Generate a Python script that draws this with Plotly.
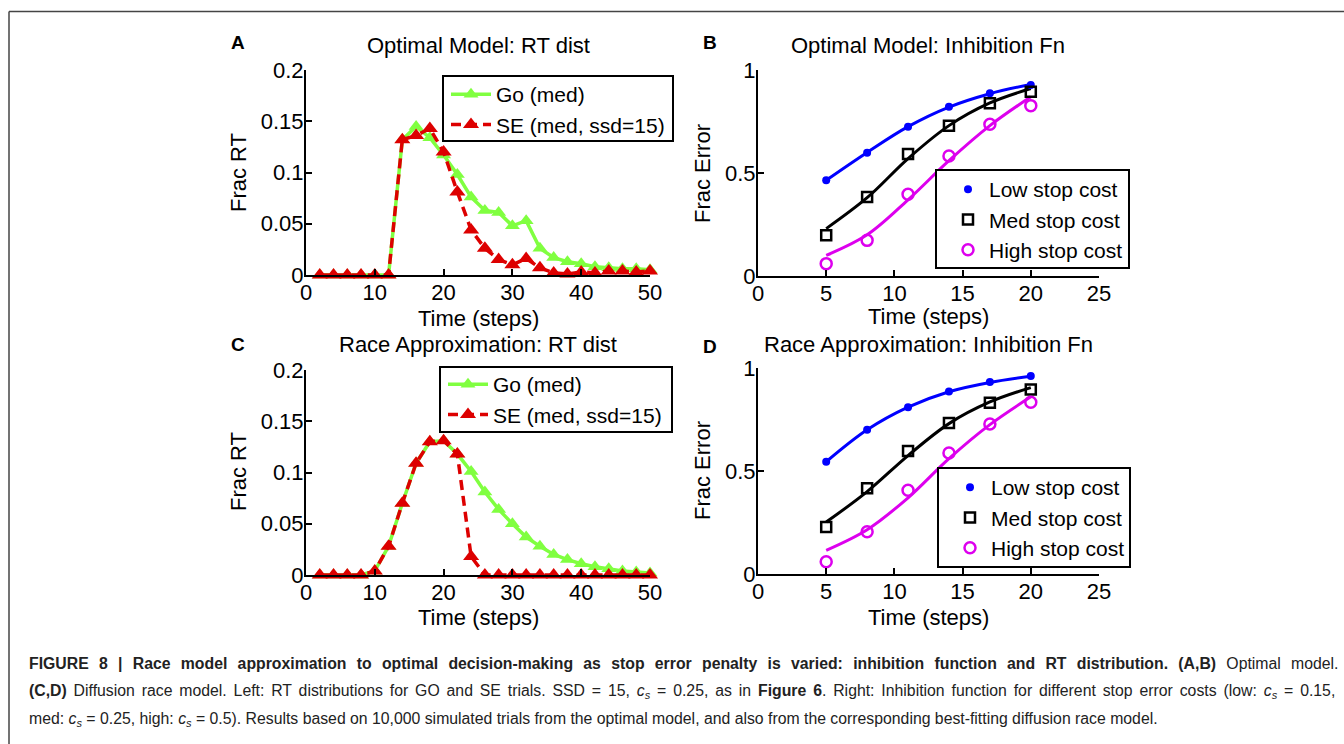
import plotly.graph_objects as go

# ---------------- data ----------------
t_steps = [2, 4, 6, 8, 10, 12, 14, 16, 18, 20, 22, 24, 26, 28, 30, 32, 34, 36, 38, 40, 42, 44, 46, 48, 50]

opt_go = [0, 0, 0, 0, 0, 0, 0.132, 0.145, 0.134, 0.117, 0.098, 0.076, 0.063, 0.061, 0.048,
          0.053, 0.026, 0.017, 0.013, 0.011, 0.008, 0.007, 0.006, 0.006, 0.005]
opt_se = [0, 0, 0, 0, 0, 0, 0.132, 0.136, 0.143, 0.120, 0.081, 0.044, 0.026, 0.015, 0.010,
          0.016, 0.007, 0.002, 0.001, 0.003, 0.002, 0.004, 0.004, 0.003, 0.004]

race_go = [0, 0, 0, 0, 0.004, 0.028, 0.070, 0.109, 0.130, 0.131, 0.118, 0.101, 0.081, 0.064,
           0.050, 0.037, 0.028, 0.020, 0.015, 0.011, 0.008, 0.006, 0.004, 0.003, 0.002]
race_se = [0, 0, 0, 0, 0.004, 0.028, 0.070, 0.109, 0.130, 0.131, 0.118, 0.018, 0, 0,
           0, 0, 0, 0, 0, 0, 0, 0, 0, 0, 0]

ssd = [5, 8, 11, 14, 17, 20]

# optimal model inhibition function: data points
opt_low = [0.465, 0.598, 0.725, 0.822, 0.887, 0.927]
opt_med = [0.198, 0.384, 0.592, 0.729, 0.838, 0.895]
opt_high = [0.060, 0.173, 0.397, 0.583, 0.737, 0.827]
# fitted curves
opt_low_fit = [0.465, 0.600, 0.725, 0.820, 0.885, 0.930]
opt_med_fit = [0.230, 0.380, 0.570, 0.730, 0.840, 0.910]
opt_high_fit = [0.100, 0.200, 0.370, 0.560, 0.730, 0.870]

# race approximation inhibition function: data points
race_low = [0.545, 0.700, 0.810, 0.886, 0.932, 0.961]
race_med = [0.228, 0.416, 0.597, 0.733, 0.831, 0.896]
race_high = [0.059, 0.205, 0.407, 0.587, 0.728, 0.834]
race_low_fit = [0.545, 0.700, 0.810, 0.885, 0.930, 0.960]
race_med_fit = [0.252, 0.400, 0.575, 0.730, 0.835, 0.905]
race_high_fit = [0.115, 0.215, 0.370, 0.560, 0.725, 0.860]

# ---------------- styling ----------------
W, H = 1344, 744
FONT = "Liberation Sans, Arial, Helvetica, sans-serif"
GREEN = "#80FF40"
RED = "#DD0000"
BLUE = "#0000FF"
MAGENTA = "#DD00EE"


def px(x):
    return x / W


def py(y):
    return 1 - y / H


fig = go.Figure()

# panel geometry (pixels)
panels = {
    "A": dict(x0=306, x1=650, ytop=70, ybot=275),
    "C": dict(x0=306, x1=650, ytop=370, ybot=575),
    "B": dict(x0=758, x1=1099, ytop=70, ybot=276),
    "D": dict(x0=758, x1=1099, ytop=368, ybot=574),
}
axmap = {"A": ("x", "y"), "B": ("x2", "y2"), "C": ("x3", "y3"), "D": ("x4", "y4")}
legmap = {"A": "legend", "B": "legend2", "C": "legend3", "D": "legend4"}

# RT distribution panels
for key, gov, sev in (("A", opt_go, opt_se), ("C", race_go, race_se)):
    xa, ya = axmap[key]
    fig.add_trace(go.Scatter(
        x=t_steps, y=gov, mode="lines+markers", name="Go (med)",
        line=dict(color=GREEN, width=3.5),
        marker=dict(symbol="triangle-up", size=13, color=GREEN),
        xaxis=xa, yaxis=ya, legend=legmap[key], legendgroup=key + "go",
        cliponaxis=False))
    fig.add_trace(go.Scatter(
        x=t_steps, y=sev, mode="lines+markers", name="SE (med, ssd=15)",
        line=dict(color=RED, width=3.5, dash="10px,6px"),
        marker=dict(symbol="triangle-up", size=14, color=RED),
        xaxis=xa, yaxis=ya, legend=legmap[key], legendgroup=key + "se",
        cliponaxis=False))

# Inhibition function panels
for key, pts, fits in (
    ("B", (opt_low, opt_med, opt_high), (opt_low_fit, opt_med_fit, opt_high_fit)),
    ("D", (race_low, race_med, race_high), (race_low_fit, race_med_fit, race_high_fit)),
):
    xa, ya = axmap[key]
    for fit, col in zip(fits, (BLUE, "black", MAGENTA)):
        fig.add_trace(go.Scatter(
            x=ssd, y=fit, mode="lines", line=dict(color=col, width=3, shape="spline"),
            xaxis=xa, yaxis=ya, showlegend=False, hoverinfo="skip", cliponaxis=False))
    names = ("Low stop cost", "Med stop cost", "High stop cost")
    markers = (
        dict(symbol="circle", size=8, color=BLUE),
        dict(symbol="square-open", size=10, color="black", line=dict(width=2.5, color="black")),
        dict(symbol="circle-open", size=11, color=MAGENTA, line=dict(width=2.5, color=MAGENTA)),
    )
    for p, nm, mk in zip(pts, names, markers):
        fig.add_trace(go.Scatter(
            x=ssd, y=p, mode="markers", name=nm, marker=mk,
            xaxis=xa, yaxis=ya, legend=legmap[key], legendgroup=key + nm,
            cliponaxis=False))

axis_common = dict(
    showline=True, linecolor="black", linewidth=2, ticks="inside", ticklen=6,
    tickwidth=1.5, tickcolor="black", showgrid=False, zeroline=False,
    tickfont=dict(family=FONT, size=22, color="black"), mirror=False, automargin=False,
)

layout_axes = {}
for key, g in panels.items():
    xa, ya = axmap[key]
    xname = "xaxis" if xa == "x" else "xaxis" + xa[1:]
    yname = "yaxis" if ya == "y" else "yaxis" + ya[1:]
    if key in ("A", "C"):
        xr, xt = [0, 50], [0, 10, 20, 30, 40, 50]
        yr, yt = [0, 0.2], [0, 0.05, 0.1, 0.15, 0.2]
        ytxt = ["0", "0.05", "0.1", "0.15", "0.2"]
    else:
        xr, xt = [0, 25], [0, 5, 10, 15, 20, 25]
        yr, yt = [0, 1], [0, 0.5, 1]
        ytxt = ["0", "0.5", "1"]
    layout_axes[xname] = dict(axis_common, domain=[px(g["x0"]), px(g["x1"])], range=xr,
                              tickvals=xt, anchor=ya, ticklabelstandoff=-3)
    layout_axes[yname] = dict(axis_common, domain=[py(g["ybot"]), py(g["ytop"])], range=yr,
                              tickvals=yt, ticktext=ytxt, anchor=xa, ticklabelstandoff=-4)

fig.update_layout(**layout_axes)

# legends (box drawn as shape)
leg_boxes = {"A": (443, 76, 673, 141), "C": (440, 367, 672, 432),
             "B": (936, 170, 1129, 268), "D": (938, 468, 1130, 567)}
shapes = []
for key, (x0, y0, x1, y1) in leg_boxes.items():
    shapes.append(dict(type="rect", xref="paper", yref="paper", x0=px(x0), x1=px(x1),
                       y0=py(y1), y1=py(y0), line=dict(color="black", width=2),
                       fillcolor="white", layer="above"))
# page frame
shapes.append(dict(type="line", xref="paper", yref="paper", x0=px(9), x1=1.02,
                   y0=py(11.5), y1=py(11.5), line=dict(color="#444444", width=1.5)))
shapes.append(dict(type="line", xref="paper", yref="paper", x0=px(9), x1=px(9),
                   y0=py(11.5), y1=-0.02, line=dict(color="#444444", width=1.5)))

leg_common = dict(bgcolor="rgba(0,0,0,0)", borderwidth=0, xanchor="left", yanchor="top",
                  font=dict(family=FONT, size=21, color="black"), tracegroupgap=0)
fig.update_layout(
    legend=dict(leg_common, x=px(446), y=py(74), itemwidth=40),
    legend3=dict(leg_common, x=px(443), y=py(364), itemwidth=40),
    legend2=dict(leg_common, x=px(947), y=py(169), itemwidth=32),
    legend4=dict(leg_common, x=px(949), y=py(467), itemwidth=32),
)

ann = []
# titles
titles = {"A": ("Optimal Model: RT dist", 478, 45), "B": ("Optimal Model: Inhibition Fn", 928, 46),
          "C": ("Race Approximation: RT dist", 478, 344), "D": ("Race Approximation: Inhibition Fn", 928, 345)}
for key, (txt, x, y) in titles.items():
    ann.append(dict(text=txt, x=px(x), y=py(y), xref="paper", yref="paper", showarrow=False,
                    xanchor="center", yanchor="middle", font=dict(family=FONT, size=22, color="black")))
# panel letters
letters = {"A": (238, 43), "B": (710, 43), "C": (238, 345), "D": (710, 346)}
for key, (x, y) in letters.items():
    ann.append(dict(text="<b>%s</b>" % key, x=px(x), y=py(y), xref="paper", yref="paper",
                    showarrow=False, xanchor="center", yanchor="middle",
                    font=dict(family=FONT, size=19, color="black")))
# axis titles
xt_pos = [(478, 318), (928, 317), (478, 617), (928, 617)]
for x, y in xt_pos:
    ann.append(dict(text="Time (steps)", x=px(x), y=py(y), xref="paper", yref="paper",
                    showarrow=False, xanchor="center", yanchor="middle",
                    font=dict(family=FONT, size=22, color="black")))
yt_pos = [("Frac RT", 238, 173), ("Frac RT", 238, 472), ("Frac Error", 702, 174), ("Frac Error", 702, 471)]
for txt, x, y in yt_pos:
    ann.append(dict(text=txt, x=px(x), y=py(y), xref="paper", yref="paper", textangle=-90,
                    showarrow=False, xanchor="center", yanchor="middle",
                    font=dict(family=FONT, size=22, color="black")))

# caption (justified lines emulated with word spacing)
cs = "<i>c</i><sub><i>s</i></sub>"
cap_lines = [
    ("<b>FIGURE 8 | Race model approximation to optimal decision-making as stop error penalty is varied: "
     "inhibition function and RT distribution. (A,B)</b> Optimal model.", 663, 5.9),
    ("<b>(C,D)</b> Diffusion race model. Left: RT distributions for GO and SE trials. SSD = 15, "
     + cs + " = 0.25, as in <b>Figure 6</b>. Right: Inhibition function for different stop error costs (low: "
     + cs + " = 0.15,", 691, 2.5),
    ("med: " + cs + " = 0.25, high: " + cs + " = 0.5). Results based on 10,000 simulated trials from the "
     "optimal model, and also from the corresponding best-fitting diffusion race model.", 719, 0),
]
for txt, y, ws in cap_lines:
    ann.append(dict(text='<span style="word-spacing:%gpx">%s</span>' % (ws, txt),
                    x=px(27), y=py(y), xref="paper", yref="paper", showarrow=False,
                    xanchor="left", yanchor="middle", align="left",
                    font=dict(family=FONT, size=15.8, color="#222222")))

fig.update_layout(
    annotations=ann, shapes=shapes,
    width=W, height=H, autosize=False,
    margin=dict(l=0, r=0, t=0, b=0, pad=0, autoexpand=False),
    paper_bgcolor="white", plot_bgcolor="white",
    font=dict(family=FONT, color="black"),
    showlegend=True,
)

fig.write_html("out.html", config={"displayModeBar": False},
               post_script="document.body.style.margin='0';document.body.style.padding='0';"
                           "document.body.style.overflow='hidden';")
